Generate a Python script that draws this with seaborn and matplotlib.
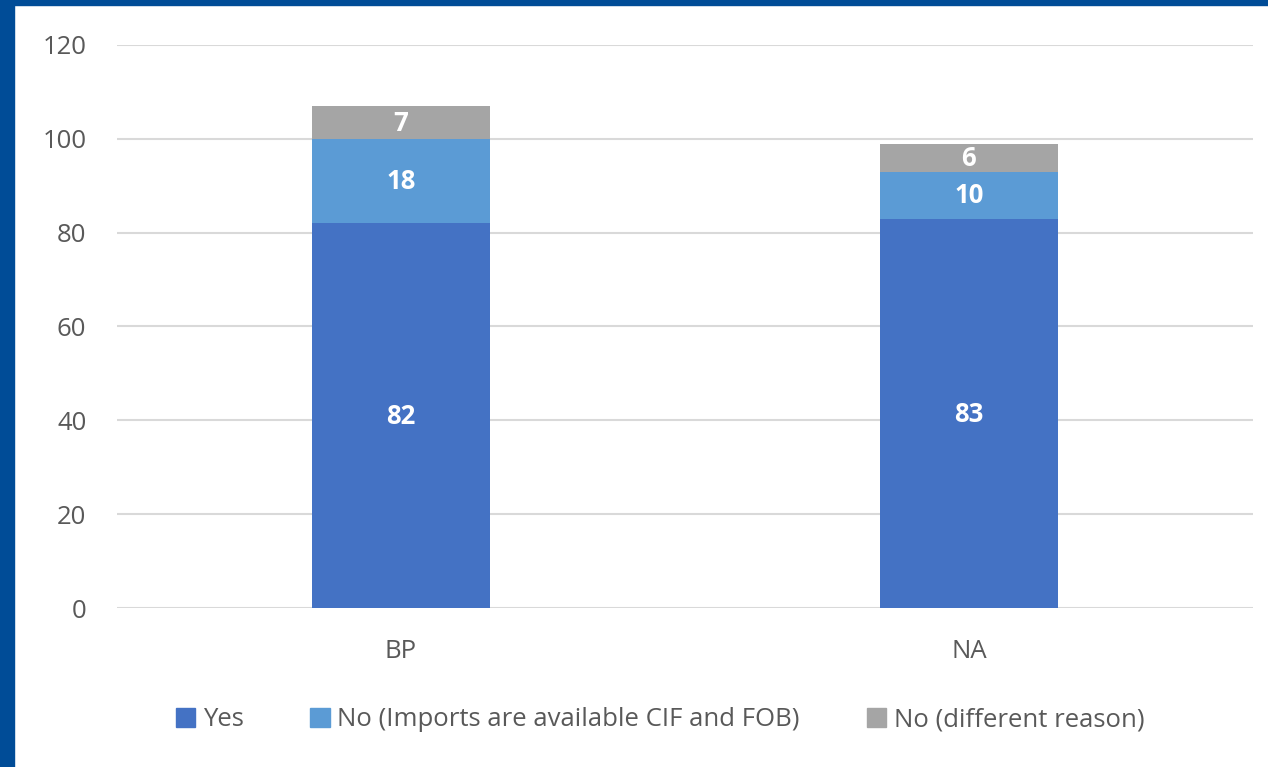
import matplotlib
matplotlib.use("Agg")
import matplotlib.pyplot as plt
import matplotlib.patches as mpatches
import seaborn as sns

categories = ["BP", "NA"]
yes = [82, 83]
no_cif_fob = [18, 10]
no_other = [7, 6]
series_names = ["Yes", "No (Imports are available CIF and FOB)", "No (different reason)"]

colors = ["#4472C4", "#5B9BD5", "#A5A5A5"]
text_col = "#595959"

sns.set_theme(style="white")
plt.rcParams["font.family"] = ["Open Sans", "DejaVu Sans"]

fig = plt.figure(figsize=(12.68, 7.67), dpi=100)
ax = fig.add_axes([117 / 1268, 1 - 608 / 767, (1253 - 117) / 1268, (608 - 45) / 767])

bottoms = [0, 0]
for vals, name, c in zip([yes, no_cif_fob, no_other], series_names, colors):
    sns.barplot(x=categories, y=vals, bottom=bottoms, color=c, saturation=1,
                width=0.313, label=name, ax=ax, linewidth=0)
    bottoms = [b + v for b, v in zip(bottoms, vals)]

# white value labels, nudged down a little like the original
for cont in ax.containers:
    labels = ax.bar_label(cont, label_type="center", color="white", fontsize=18.5,
                          fontweight="bold")
    for t in labels:
        t.set_y(t.get_position()[1] - 0.6)

ax.set_ylim(0, 120)
ax.set_yticks(range(0, 121, 20))
ax.yaxis.grid(True, color="#D9D9D9", linewidth=1.5)
ax.set_axisbelow(True)
for s in ax.spines.values():
    s.set_visible(False)
ax.tick_params(axis="both", length=0, labelsize=18.5, labelcolor=text_col)
ax.tick_params(axis="y", pad=22)
ax.tick_params(axis="x", pad=22)

handles = [mpatches.Patch(color=c) for c in colors]
ax.legend(handles, series_names, loc="center", bbox_to_anchor=(660 / 1268, 1 - 720 / 767),
          bbox_transform=fig.transFigure, ncol=3, frameon=False, fontsize=18.5,
          handlelength=0.75, handleheight=0.75, handletextpad=0.3, columnspacing=2.6,
          labelcolor=text_col)

# blue frame on the left and top edges
fig.patches.append(mpatches.Rectangle((0, 0), 14 / 1268, 1, transform=fig.transFigure,
                                      color="#004C97", zorder=10))
fig.patches.append(mpatches.Rectangle((0, 1 - 5 / 767), 1, 5 / 767, transform=fig.transFigure,
                                      color="#004C97", zorder=10))

fig.savefig("out.png", dpi=100)
